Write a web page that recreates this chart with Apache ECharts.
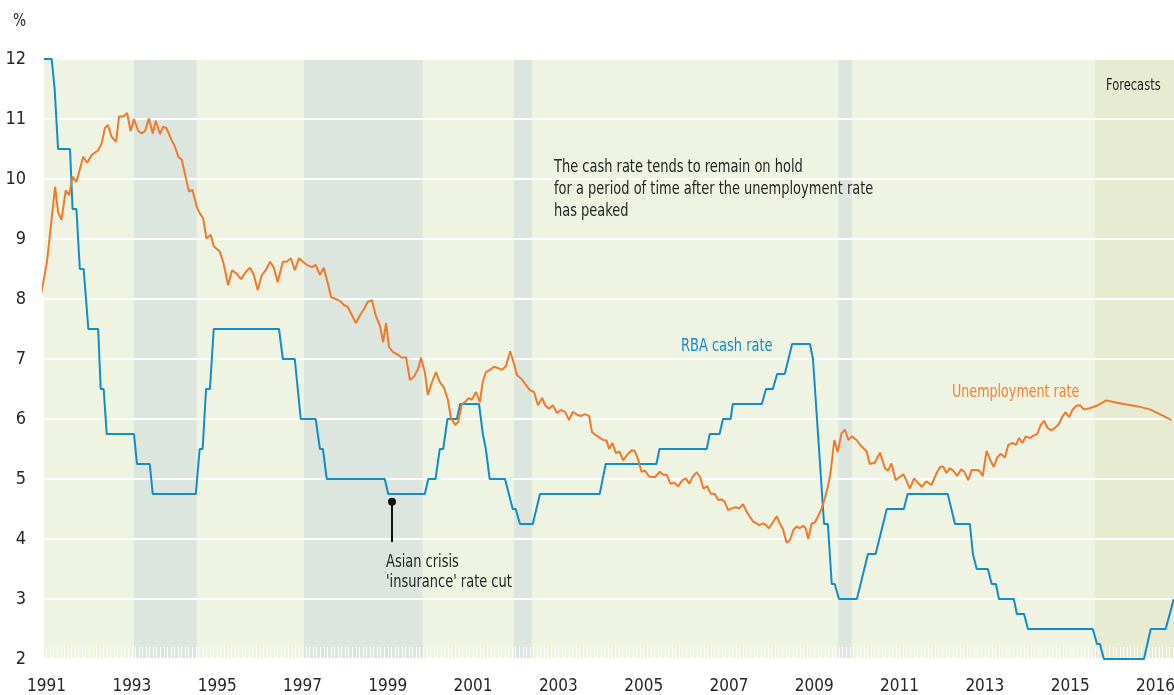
<!DOCTYPE html>
<html>
<head>
<meta charset="utf-8">
<script src="https://cdn.jsdelivr.net/npm/echarts@6/dist/echarts.min.js"></script>
<style>
  html, body { margin: 0; padding: 0; background: #fff; }
  #chart { width: 1174px; height: 695px; }
</style>
</head>
<body>
<div id="chart"></div>
<script>
// cash rate: corner points of the line (year, %)
const cashYears = [1990.94, 1991.12, 1991.19, 1991.27, 1991.55, 1991.61, 1991.70, 1991.78, 1991.87, 1991.98,
  1992.21, 1992.27, 1992.34, 1992.41, 1993.05, 1993.12, 1993.42, 1993.49, 1994.50, 1994.59,
  1994.66, 1994.74, 1994.83, 1994.92, 1996.45, 1996.54, 1996.82, 1996.96, 1997.31, 1997.41,
  1997.48, 1997.57, 1998.93, 1999.01, 1999.87, 1999.95, 2000.12, 2000.22, 2000.30, 2000.40,
  2000.62, 2000.70, 2001.14, 2001.23, 2001.30, 2001.39, 2001.75, 2001.93, 2002.00, 2002.10,
  2002.40, 2002.57, 2003.97, 2004.11, 2005.30, 2005.37, 2006.48, 2006.55, 2006.78, 2006.86,
  2007.04, 2007.09, 2007.77, 2007.87, 2008.03, 2008.13, 2008.31, 2008.48, 2008.90, 2008.97,
  2009.23, 2009.32, 2009.41, 2009.48, 2009.58, 2010.00, 2010.26, 2010.44, 2010.70, 2011.10,
  2011.19, 2012.13, 2012.30, 2012.65, 2012.72, 2012.81, 2013.07, 2013.16, 2013.26, 2013.33,
  2013.68, 2013.75, 2013.92, 2014.01, 2015.53, 2015.63, 2015.70, 2015.79, 2016.73, 2016.89,
  2017.24, 2017.43];
const cashRate = [12, 12, 11.5, 10.5, 10.5, 9.5, 9.5, 8.5, 8.5, 7.5,
  7.5, 6.5, 6.5, 5.75, 5.75, 5.25, 5.25, 4.75, 4.75, 5.5,
  5.5, 6.5, 6.5, 7.5, 7.5, 7.0, 7.0, 6.0, 6.0, 5.5,
  5.5, 5.0, 5.0, 4.75, 4.75, 5.0, 5.0, 5.5, 5.5, 6.0,
  6.0, 6.25, 6.25, 5.75, 5.5, 5.0, 5.0, 4.5, 4.5, 4.25,
  4.25, 4.75, 4.75, 5.25, 5.25, 5.5, 5.5, 5.75, 5.75, 6.0,
  6.0, 6.25, 6.25, 6.5, 6.5, 6.75, 6.75, 7.25, 7.25, 7.0,
  4.25, 4.25, 3.25, 3.25, 3.0, 3.0, 3.75, 3.75, 4.5, 4.5,
  4.75, 4.75, 4.25, 4.25, 3.75, 3.5, 3.5, 3.25, 3.25, 3.0,
  3.0, 2.75, 2.75, 2.5, 2.5, 2.25, 2.25, 2.0, 2.0, 2.5,
  2.5, 3.0];

// unemployment rate (year, %)
const unempYears = [1990.84, 1991.01, 1991.20, 1991.27, 1991.35, 1991.45, 1991.53, 1991.61, 1991.70, 1991.86,
  1991.95, 1992.06, 1992.21, 1992.29, 1992.37, 1992.44, 1992.52, 1992.63, 1992.70, 1992.80,
  1992.89, 1992.97, 1993.05, 1993.15, 1993.23, 1993.31, 1993.40, 1993.49, 1993.56, 1993.66,
  1993.73, 1993.81, 1993.93, 1994.01, 1994.09, 1994.17, 1994.34, 1994.42, 1994.52, 1994.59,
  1994.67, 1994.75, 1994.85, 1994.92, 1995.06, 1995.14, 1995.26, 1995.35, 1995.46, 1995.56,
  1995.67, 1995.77, 1995.86, 1995.95, 1996.05, 1996.14, 1996.24, 1996.33, 1996.42, 1996.54,
  1996.63, 1996.73, 1996.82, 1996.92, 1997.01, 1997.10, 1997.22, 1997.31, 1997.41, 1997.50,
  1997.60, 1997.67, 1997.78, 1997.88, 1997.97, 1998.06, 1998.16, 1998.25, 1998.35, 1998.44,
  1998.53, 1998.63, 1998.72, 1998.82, 1998.89, 1998.96, 1999.03, 1999.12, 1999.24, 1999.33,
  1999.43, 1999.52, 1999.61, 1999.71, 1999.78, 1999.87, 1999.94, 2000.04, 2000.13, 2000.22,
  2000.32, 2000.41, 2000.48, 2000.58, 2000.65, 2000.74, 2000.81, 2000.90, 2000.97, 2001.07,
  2001.16, 2001.23, 2001.30, 2001.40, 2001.49, 2001.58, 2001.68, 2001.77, 2001.87, 2001.96,
  2002.03, 2002.12, 2002.24, 2002.33, 2002.43, 2002.52, 2002.62, 2002.69, 2002.78, 2002.87,
  2002.97, 2003.06, 2003.16, 2003.25, 2003.34, 2003.44, 2003.53, 2003.62, 2003.72, 2003.79,
  2003.88, 2004.05, 2004.13, 2004.19, 2004.27, 2004.35, 2004.43, 2004.52, 2004.61, 2004.72,
  2004.79, 2004.87, 2004.95, 2005.03, 2005.13, 2005.26, 2005.38, 2005.46, 2005.54, 2005.63,
  2005.71, 2005.81, 2005.91, 2005.99, 2006.07, 2006.15, 2006.24, 2006.32, 2006.40, 2006.49,
  2006.57, 2006.67, 2006.75, 2006.83, 2006.90, 2006.98, 2007.06, 2007.16, 2007.24, 2007.33,
  2007.41, 2007.49, 2007.57, 2007.65, 2007.71, 2007.80, 2007.87, 2007.94, 2008.04, 2008.12,
  2008.19, 2008.27, 2008.35, 2008.43, 2008.51, 2008.59, 2008.66, 2008.74, 2008.80, 2008.86,
  2008.94, 2009.01, 2009.09, 2009.17, 2009.25, 2009.33, 2009.39, 2009.47, 2009.55, 2009.64,
  2009.72, 2009.80, 2009.88, 2009.99, 2010.11, 2010.23, 2010.30, 2010.42, 2010.54, 2010.66,
  2010.73, 2010.81, 2010.91, 2011.09, 2011.17, 2011.24, 2011.34, 2011.44, 2011.52, 2011.63,
  2011.75, 2011.87, 2011.95, 2012.02, 2012.10, 2012.18, 2012.26, 2012.35, 2012.44, 2012.52,
  2012.61, 2012.69, 2012.77, 2012.87, 2012.95, 2013.04, 2013.12, 2013.21, 2013.29, 2013.37,
  2013.47, 2013.55, 2013.65, 2013.73, 2013.80, 2013.88, 2013.96, 2014.06, 2014.13, 2014.23,
  2014.31, 2014.39, 2014.47, 2014.56, 2014.64, 2014.74, 2014.81, 2014.89, 2014.98, 2015.06,
  2015.15, 2015.23, 2015.32, 2015.46, 2015.62, 2015.85, 2016.09, 2016.32, 2016.59, 2016.87,
  2017.10, 2017.38];
const unempRate = [7.95, 8.62, 9.87, 9.45, 9.32, 9.81, 9.73, 10.04, 9.95, 10.37,
  10.27, 10.40, 10.48, 10.59, 10.85, 10.90, 10.71, 10.62, 11.04, 11.04,
  11.10, 10.80, 11.00, 10.80, 10.76, 10.80, 11.01, 10.76, 10.97, 10.75,
  10.87, 10.85, 10.65, 10.54, 10.37, 10.32, 9.79, 9.82, 9.54, 9.43,
  9.35, 9.01, 9.07, 8.88, 8.79, 8.62, 8.23, 8.48, 8.42, 8.33,
  8.45, 8.52, 8.40, 8.15, 8.40, 8.48, 8.62, 8.52, 8.28, 8.62,
  8.62, 8.68, 8.48, 8.68, 8.62, 8.57, 8.53, 8.57, 8.40, 8.52,
  8.25, 8.03, 8.00, 7.97, 7.90, 7.87, 7.73, 7.60, 7.73, 7.83,
  7.95, 7.98, 7.72, 7.55, 7.28, 7.60, 7.20, 7.12, 7.07, 7.02,
  7.03, 6.65, 6.70, 6.83, 7.02, 6.78, 6.40, 6.62, 6.78, 6.62,
  6.52, 6.32, 6.02, 5.90, 5.95, 6.25, 6.28, 6.35, 6.32, 6.45,
  6.28, 6.63, 6.78, 6.82, 6.87, 6.85, 6.82, 6.88, 7.13, 6.92,
  6.73, 6.68, 6.57, 6.48, 6.45, 6.23, 6.35, 6.23, 6.17, 6.23,
  6.10, 6.15, 6.12, 5.98, 6.12, 6.07, 6.05, 6.08, 6.05, 5.78,
  5.73, 5.65, 5.64, 5.50, 5.60, 5.43, 5.46, 5.31, 5.40, 5.48,
  5.47, 5.33, 5.12, 5.14, 5.04, 5.03, 5.12, 5.07, 5.07, 4.92,
  4.94, 4.88, 4.98, 5.01, 4.92, 5.04, 5.11, 5.04, 4.84, 4.88,
  4.76, 4.75, 4.65, 4.66, 4.62, 4.48, 4.51, 4.53, 4.51, 4.58,
  4.46, 4.37, 4.29, 4.26, 4.23, 4.26, 4.23, 4.18, 4.29, 4.38,
  4.26, 4.16, 3.94, 3.98, 4.15, 4.21, 4.18, 4.22, 4.18, 4.00,
  4.26, 4.27, 4.38, 4.50, 4.68, 4.90, 5.15, 5.65, 5.45, 5.76,
  5.82, 5.65, 5.71, 5.65, 5.54, 5.46, 5.25, 5.27, 5.44, 5.18,
  5.14, 5.26, 4.98, 5.08, 4.96, 4.84, 5.01, 4.93, 4.87, 4.96,
  4.90, 5.10, 5.20, 5.21, 5.10, 5.18, 5.14, 5.05, 5.16, 5.12,
  4.98, 5.15, 5.15, 5.14, 5.05, 5.47, 5.33, 5.20, 5.36, 5.42,
  5.36, 5.57, 5.60, 5.57, 5.68, 5.60, 5.71, 5.68, 5.72, 5.75,
  5.90, 5.97, 5.85, 5.81, 5.85, 5.92, 6.03, 6.11, 6.03, 6.16,
  6.22, 6.23, 6.16, 6.18, 6.22, 6.31, 6.27, 6.24, 6.21, 6.16,
  6.08, 5.98];

// shaded periods and forecast period
const plotStart = 1990.94;
const plotEnd = 2017.435;
const shadeStart = [1993.05, 1997.036, 2001.96, 2009.563];
const shadeEnd = [1994.52, 1999.819, 2002.382, 2009.885];
const forecastStart = 2015.583;

// x axis labels
const tickYears = [1991, 1993, 1995, 1997, 1999, 2001, 2003, 2005, 2007, 2009, 2011, 2013, 2015, 2017];
const tickLabels = ['1991', '1993', '1995', '1997', '1999', '2001', '2003', '2005', '2007', '2009', '2011', '2013', '2015', '2016'];

const FONT = "'Liberation Sans Narrow', 'DejaVu Sans Condensed', 'Liberation Sans', sans-serif";
const TEXT = '#262626';
const BLUE = '#118dc9';
const ORANGE = '#f07a2a';

const monthTicks = [];
for (let m = 0; m <= 26 * 12 + 5; m++) monthTicks.push(1991 + m / 12);

const bands = [[{ xAxis: plotStart, itemStyle: { color: '#eff3e2' } }, { xAxis: plotEnd }]];
shadeStart.forEach((s, i) => {
  bands.push([{ xAxis: s, itemStyle: { color: '#dce6df' } }, { xAxis: shadeEnd[i] }]);
});
bands.push([{ xAxis: forecastStart, itemStyle: { color: '#e6ebd1' } }, { xAxis: plotEnd }]);

// condensed annotation text
function note(x, y, text, size, color, sx, lh) {
  return {
    type: 'text', z: 10, x: x, y: y, scaleX: sx,
    style: {
      text: text, font: size + 'px ' + FONT, fill: color,
      align: 'left', verticalAlign: 'top', lineHeight: lh || Math.round(size * 1.2)
    }
  };
}

const chart = echarts.init(document.getElementById('chart'));

chart.setOption({
  animation: false,
  textStyle: { fontFamily: FONT },
  grid: { left: 43, right: 0, top: 59, bottom: 36, outerBoundsMode: 'none', containLabel: false },
  xAxis: {
    type: 'value',
    min: 1990 + 11 / 12,
    max: plotEnd,
    z: 1.5,
    axisLine: { show: false },
    splitLine: { show: false },
    axisTick: {
      show: true, inside: true, length: 12,
      customValues: monthTicks,
      lineStyle: { color: '#ffffff', width: 1 }
    },
    axisLabel: {
      customValues: tickYears,
      margin: 19,
      fontSize: 17,
      color: TEXT,
      fontFamily: FONT,
      formatter: v => {
        const i = tickYears.findIndex(y => Math.abs(y - v) < 0.01);
        return i >= 0 ? tickLabels[i] : '';
      }
    }
  },
  yAxis: {
    type: 'value',
    min: 2,
    max: 12,
    interval: 1,
    z: 1.5,
    axisLine: { show: false },
    axisTick: { show: false },
    axisLabel: { margin: 17, fontSize: 18, color: TEXT, fontFamily: FONT },
    splitLine: { show: true, lineStyle: { color: '#ffffff', width: 2 } }
  },
  series: [
    {
      name: 'RBA cash rate',
      type: 'line',
      data: cashYears.map((x, i) => [x, cashRate[i]]),
      showSymbol: false,
      lineStyle: { color: BLUE, width: 2 },
      itemStyle: { color: BLUE },
      z: 3,
      markArea: {
        silent: true,
        z: 1,
        data: bands
      },
      markLine: {
        silent: true,
        symbol: ['none', 'circle'],
        symbolSize: 8,
        label: { show: false },
        lineStyle: { color: '#111111', width: 2, type: 'solid' },
        itemStyle: { color: '#111111' },
        data: [[{ coord: [1999.1, 3.95] }, { coord: [1999.1, 4.62] }]]
      }
    },
    {
      name: 'Unemployment rate',
      type: 'line',
      data: unempYears.map((x, i) => [x, unempRate[i]]),
      showSymbol: false,
      clip: false,
      lineStyle: { color: ORANGE, width: 2 },
      itemStyle: { color: ORANGE },
      z: 4
    }
  ],
  graphic: [
    note(13, 12, '%', 17, TEXT, 0.9),
    note(1106, 76, 'Forecasts', 16, TEXT, 0.8),
    note(554, 157, 'The cash rate tends to remain on hold\nfor a period of time after the unemployment rate\nhas peaked', 17, TEXT, 0.85, 22),
    note(681, 337, 'RBA cash rate', 17, BLUE, 0.85),
    note(952, 383, 'Unemployment rate', 17, '#f08538', 0.83),
    note(386, 553, "Asian crisis\n'insurance' rate cut", 17, TEXT, 0.85, 20)
  ]
});
</script>
</body>
</html>
